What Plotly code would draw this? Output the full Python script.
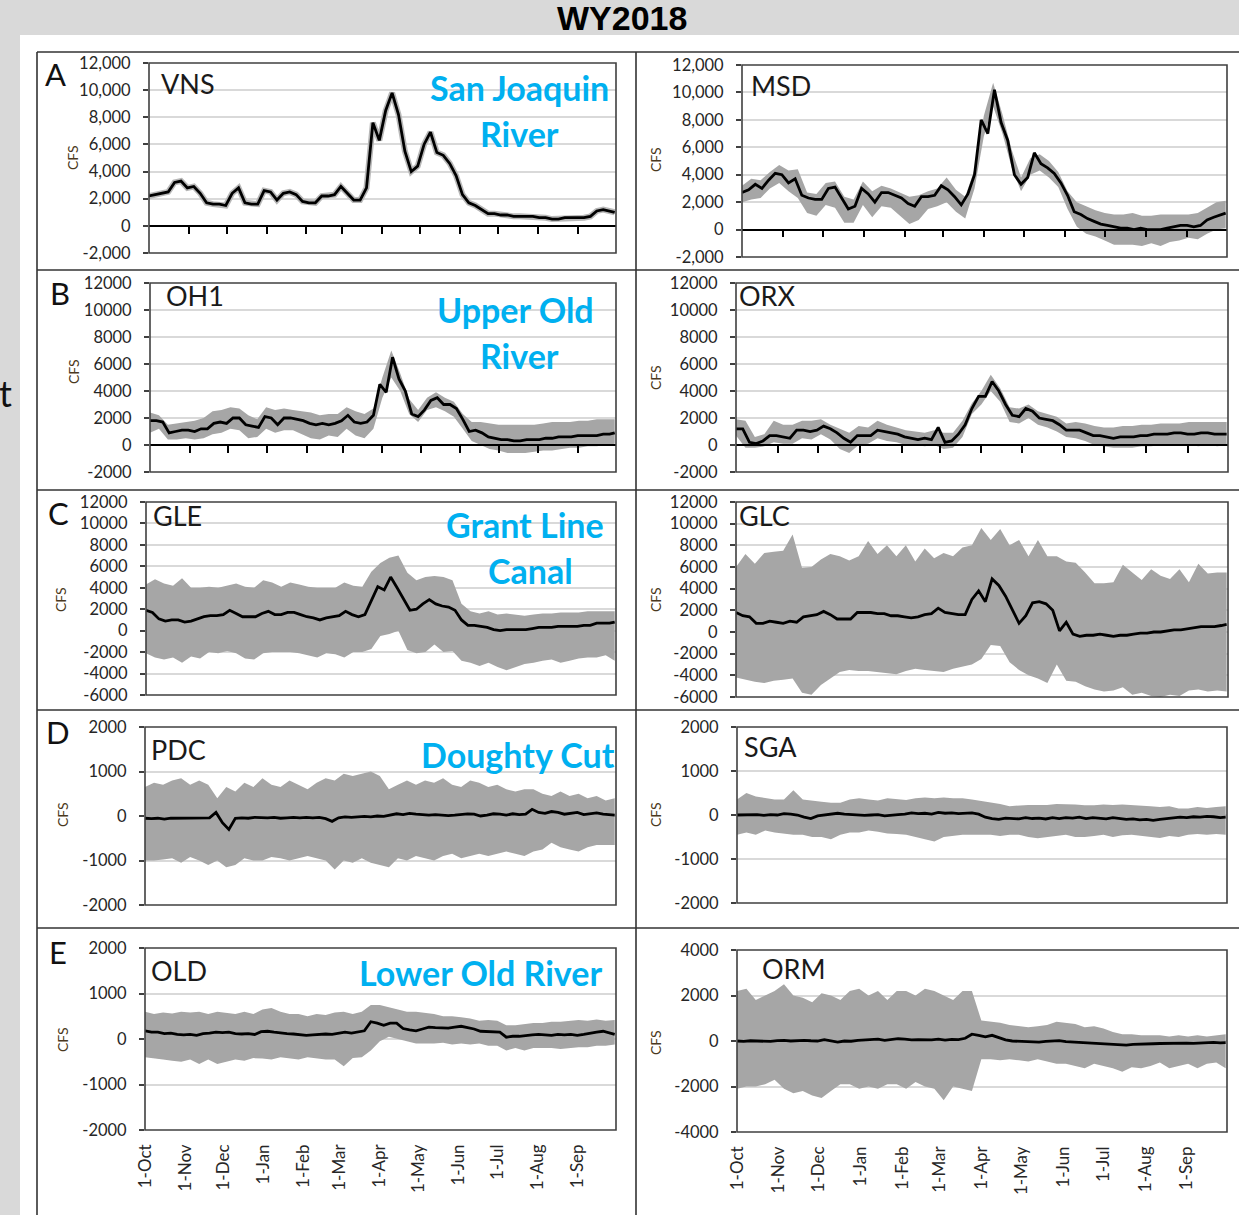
import plotly.graph_objects as go
import pandas as pd

W, H = 1239, 1215

# ---------------- categories (dates) ----------------
dates5 = list(pd.date_range('2017-10-01', periods=73, freq='5D')) + [pd.Timestamp('2018-09-30')]
dates7 = list(pd.date_range('2017-10-01', periods=53, freq='7D'))
month_starts = list(pd.date_range('2017-10-01', periods=12, freq='MS'))
month_labels = ['1-Oct', '1-Nov', '1-Dec', '1-Jan', '1-Feb', '1-Mar',
                '1-Apr', '1-May', '1-Jun', '1-Jul', '1-Aug', '1-Sep']

# ---------------- daily-mean flow (5-day samples) ----------------
vns_mean = [2200, 2300, 2400, 2500, 3200, 3300, 2800, 2900, 2400, 1700,
            1600, 1600, 1500, 2400, 2800, 1700, 1600, 1600, 2600, 2500,
            1900, 2400, 2500, 2300, 1800, 1700, 1700, 2200, 2200, 2300,
            2900, 2400, 1900, 1900, 2800, 7600, 6300, 8500, 9800, 8200,
            5500, 4000, 4400, 6000, 6900, 5400, 5200, 4600, 3700, 2300,
            1700, 1500, 1200, 900, 900, 800, 800, 700, 700, 700,
            700, 600, 600, 500, 500, 600, 600, 600, 600, 700,
            1100, 1200, 1100, 1000]
msd_mean = [2700, 2900, 3300, 3000, 3600, 4100, 4000, 3400, 3700, 2500,
            2300, 2200, 2200, 3000, 3100, 2300, 1500, 1700, 3000, 2600,
            2000, 2700, 2700, 2500, 2300, 1900, 1700, 2400, 2400, 2500,
            3200, 2900, 2400, 1800, 2600, 4000, 8000, 7000, 10200, 7800,
            6500, 4000, 3300, 3800, 5600, 4800, 4500, 4100, 3400, 2500,
            1300, 1100, 800, 600, 400, 300, 200, 100, 100, 0,
            100, 0, 0, 0, 100, 200, 300, 300, 200, 300,
            700, 900, 1100, 1200]
oh1_mean = [1800, 1800, 1700, 900, 1000, 1100, 1100, 1000, 1200, 1200,
            1600, 1700, 1600, 2000, 2000, 1500, 1400, 1300, 2100, 2000,
            1500, 2000, 2000, 1900, 1800, 1600, 1500, 1600, 1500, 1600,
            1800, 2200, 1700, 1600, 1700, 2200, 4500, 3900, 6500, 4900,
            4000, 2300, 2100, 2600, 3300, 3500, 3000, 3000, 2700, 1900,
            1000, 1100, 900, 600, 500, 400, 400, 300, 300, 400,
            400, 400, 500, 500, 600, 600, 600, 700, 700, 700,
            700, 800, 800, 900]
orx_mean = [1200, 1200, 200, 100, 300, 700, 700, 600, 500, 1100,
            1100, 1000, 1100, 1400, 1200, 900, 500, 200, 700, 700,
            700, 1100, 1000, 900, 800, 600, 500, 400, 500, 400,
            1300, 200, 300, 800, 1500, 2700, 3600, 3600, 4700, 4000,
            3000, 2200, 2100, 2700, 2500, 2000, 1900, 1800, 1500, 1100,
            1100, 1100, 900, 700, 700, 600, 500, 600, 600, 600,
            700, 700, 800, 800, 800, 900, 900, 800, 800, 900,
            900, 800, 800, 800]
gle_mean = [1900, 1700, 1100, 900, 1000, 1000, 800, 900, 1100, 1300,
            1400, 1400, 1500, 1900, 1600, 1300, 1300, 1300, 1600, 1800,
            1500, 1500, 1700, 1700, 1500, 1300, 1200, 1000, 1200, 1300,
            1400, 1800, 1500, 1300, 1500, 2800, 4100, 3800, 5000, 4000,
            3000, 1900, 2000, 2500, 2900, 2500, 2300, 2200, 1900, 1000,
            500, 500, 400, 300, 100, 0, 100, 100, 100, 100,
            200, 300, 300, 300, 400, 400, 400, 400, 500, 500,
            700, 700, 700, 800]
glc_mean = [1800, 1500, 1400, 800, 800, 1000, 900, 800, 1000, 900,
            1400, 1500, 1600, 1900, 1600, 1200, 1200, 1200, 1800, 1800,
            1800, 1700, 1700, 1500, 1500, 1400, 1300, 1400, 1600, 1700,
            2200, 1800, 1700, 1600, 1600, 3000, 3800, 2800, 4900, 4300,
            3300, 2000, 800, 1500, 2700, 2800, 2600, 2000, 100, 900,
            -200, -400, -300, -300, -200, -300, -400, -300, -300, -200,
            -100, -100, 0, 0, 100, 200, 200, 300, 400, 500,
            500, 500, 600, 700]
pdc_mean = [-50, -60, -50, -70, -50, -50, -50, -40, -50, -50,
            -40, 80, -150, -300, -50, -40, -50, -30, -40, -40,
            -30, -50, -40, -30, -40, -30, -40, -30, -60, -120,
            -40, -20, -30, -20, -10, -20, 0, -10, 20, 50,
            30, 60, 40, 30, 20, 30, 20, 10, 20, 30,
            50, 40, 0, 20, 50, 40, 20, 50, 30, 40,
            150, 80, 60, 100, 80, 40, 60, 80, 30, 50,
            70, 40, 30, 20]
sga_mean = [0, 0, 0, 10, -10, 10, 0, 30, 20, 0,
            -50, -80, -20, 0, 20, 40, 20, 10, 0, -10,
            0, 10, -20, 0, 10, 20, 50, 30, 40, 20,
            60, 40, 50, 30, 40, 50, 20, -50, -80, -100,
            -70, -80, -90, -60, -80, -70, -90, -60, -80, -60,
            -70, -50, -80, -60, -70, -90, -60, -80, -100, -90,
            -110, -100, -120, -100, -80, -60, -50, -60, -40, -50,
            -30, -40, -60, -50]
old_mean = [180, 150, 150, 120, 130, 100, 90, 100, 80, 120,
            130, 150, 140, 150, 120, 110, 120, 100, 160, 170,
            150, 130, 120, 110, 100, 80, 90, 100, 110, 100,
            130, 150, 130, 160, 180, 380, 350, 300, 350, 350,
            230, 200, 180, 220, 260, 250, 250, 240, 260, 280,
            250, 220, 170, 160, 150, 150, 40, 60, 60, 80,
            90, 100, 90, 80, 100, 90, 100, 80, 100, 130,
            150, 170, 140, 100]
orm_mean = [0, -20, 10, -10, 0, -20, 20, 30, 0, 20,
            30, 10, 0, 60, 20, -50, 0, -10, 30, 40,
            50, 80, 30, 60, 100, 80, 50, 60, 40, 50,
            80, 40, 70, 60, 120, 300, 250, 180, 250, 150,
            50, 0, -20, -30, -30, -50, -20, 0, 20, -30,
            -50, -60, -80, -90, -100, -150, -170, -160, -180, -150,
            -130, -140, -120, -110, -100, -110, -100, -90, -100, -80,
            -90, -60, -80, -70]

# ---------------- tidal range envelopes (weekly samples) ----------------
msd_up = [3200, 3700, 3600, 4200, 4700, 4300, 4400, 2700, 2600, 3400,
          3500, 2400, 2200, 3500, 2800, 3200, 3000, 2700, 2400, 2500,
          2800, 3000, 3800, 2900, 2400, 4400, 8300, 10700, 8400, 5800,
          3800, 5200, 5500, 5000, 4200, 2800, 2000, 1700, 1400, 1200,
          1100, 1100, 1200, 1000, 1000, 1100, 1100, 1100, 1100, 1200,
          1600, 2000, 2100]
msd_lo = [2000, 2200, 2300, 3000, 3400, 2800, 2300, 1200, 1000, 1800,
          1600, 500, 500, 1800, 900, 1700, 1600, 1000, 400, 700,
          1500, 1700, 2000, 1300, 800, 3000, 6800, 9000, 7000, 4500,
          2800, 4000, 4300, 3800, 3100, 1500, 200, -300, -500, -800,
          -1100, -1100, -1100, -1200, -1000, -1200, -900, -800, -600, -700,
          -300, 0, 100]
oh1_up = [2400, 2200, 1500, 1600, 1700, 1800, 2000, 2500, 2600, 2800,
          2700, 2200, 1900, 2800, 2600, 2700, 2600, 2500, 2400, 2200,
          2300, 2300, 2800, 2500, 2300, 2700, 5000, 7000, 5300, 3400,
          2600, 3500, 3900, 3500, 3200, 2300, 1700, 1700, 1600, 1500,
          1500, 1500, 1500, 1500, 1600, 1700, 1700, 1700, 1800, 1800,
          1900, 1900, 1900]
oh1_lo = [900, 1200, 400, 400, 500, 400, 500, 800, 900, 1200,
          1100, 500, 600, 1200, 900, 1100, 1100, 800, 500, 400,
          700, 600, 1200, 700, 500, 1200, 3500, 5000, 4000, 2300,
          1700, 2600, 2800, 2500, 2100, 1200, 300, 0, -300, -400,
          -600, -600, -600, -500, -400, -400, -300, -200, -200, -100,
          -100, 0, 100]
orx_up = [1900, 1800, 600, 800, 1800, 1500, 1500, 1800, 1800, 1900,
          1500, 1200, 900, 1400, 1300, 1800, 1500, 1300, 1100, 1000,
          900, 1100, 900, 900, 1800, 3100, 4000, 5200, 4200, 2800,
          2700, 3000, 2500, 2300, 2100, 1600, 1700, 1600, 1400, 1300,
          1300, 1400, 1400, 1500, 1500, 1600, 1600, 1600, 1700, 1700,
          1700, 1700, 1700]
orx_lo = [700, -200, -200, -100, 200, 100, 100, 500, 400, 800,
          400, -300, -600, 0, 100, 500, 300, 200, 0, 0,
          -100, 0, -300, -200, 600, 2300, 3000, 4000, 3200, 1700,
          1600, 2000, 1500, 1300, 1000, 600, 500, 300, 0, -100,
          -200, -200, -200, -100, -100, 0, 0, 0, 0, -100,
          0, -100, 0]
gle_up = [4300, 4800, 4400, 4200, 4900, 4000, 4000, 4100, 4000, 4200,
          4400, 4100, 4000, 4700, 4500, 4100, 4500, 4300, 4100, 4000,
          4000, 4000, 4500, 4200, 4100, 5500, 6300, 6800, 7000, 5400,
          4700, 5000, 5100, 5000, 4700, 2500, 1800, 1600, 1800, 1500,
          1600, 1500, 1400, 1500, 1600, 1600, 1700, 1700, 1700, 1800,
          1800, 1800, 1800]
gle_lo = [-2100, -2500, -2700, -2500, -3000, -2400, -2600, -2000, -2100, -1900,
          -2100, -2600, -2700, -2100, -2000, -2000, -2000, -2100, -2300, -2500,
          -2100, -2200, -2500, -2000, -2000, -1700, -500, -300, 0, -1800,
          -2100, -2000, -1300, -2000, -1900, -2800, -3000, -3300, -3000, -3400,
          -3700, -3400, -3100, -3000, -2800, -2700, -3000, -2800, -2600, -2500,
          -2500, -2300, -2800]
glc_up = [6000, 7200, 6300, 7300, 7400, 7500, 9000, 5900, 6000, 6700,
          7200, 7000, 6600, 7000, 8400, 7200, 8000, 7000, 8000, 6500,
          7700, 6800, 7300, 7000, 7800, 8000, 9600, 8500, 9500, 8000,
          8500, 7000, 8500, 7000, 7000, 6500, 6400, 5500, 4500, 4500,
          4600, 6200, 5500, 4800, 5800, 5200, 4900, 5800, 4600, 6300,
          5400, 5500, 5500]
glc_lo = [-4200, -4400, -4600, -4700, -4500, -4400, -4300, -5600, -5800, -4900,
          -4300, -3700, -3500, -3600, -3600, -3700, -3800, -3900, -3600, -3400,
          -3500, -3600, -3700, -3400, -3200, -3000, -2500, -1200, -1300, -2800,
          -3500, -4000, -4300, -4700, -3000, -4500, -4600, -5000, -5300, -5500,
          -5400, -5100, -5800, -5600, -5900, -6000, -5800, -5900, -5400, -5300,
          -5500, -5400, -5500]
pdc_up = [650, 750, 700, 800, 850, 700, 800, 700, 400, 650,
          550, 750, 650, 850, 700, 650, 800, 700, 600, 750,
          850, 800, 950, 900, 950, 1000, 900, 600, 700, 800,
          700, 800, 750, 850, 700, 650, 800, 750, 650, 700,
          600, 550, 600, 600, 500, 450, 550, 450, 500, 400,
          450, 350, 400]
pdc_lo = [-1000, -1000, -980, -950, -1050, -920, -1000, -1100, -1000, -1150,
          -1100, -950, -1000, -1000, -920, -950, -1000, -950, -900, -950,
          -1000, -1200, -1000, -1050, -950, -1050, -1100, -1150, -950, -1000,
          -900, -950, -1000, -900, -850, -950, -900, -850, -900, -850,
          -800, -850, -900, -800, -750, -600, -700, -750, -800, -700,
          -650, -650, -650]
sga_up = [350, 500, 420, 380, 350, 350, 560, 350, 320, 300,
          280, 280, 350, 380, 350, 330, 380, 360, 340, 380,
          400, 380, 400, 380, 380, 350, 320, 280, 250, 200,
          220, 230, 230, 230, 250, 250, 240, 220, 220, 240,
          230, 240, 230, 220, 200, 180, 200, 150, 150, 180,
          160, 180, 200]
sga_lo = [-450, -400, -450, -350, -400, -420, -450, -450, -500, -500,
          -550, -450, -400, -400, -350, -380, -420, -430, -450, -500,
          -550, -600, -500, -480, -450, -450, -450, -450, -480, -450,
          -450, -500, -530, -500, -480, -450, -500, -500, -480, -450,
          -500, -460, -450, -470, -500, -520, -480, -500, -450, -430,
          -450, -430, -450]
old_up = [600, 550, 580, 560, 600, 580, 600, 550, 600, 580,
          550, 600, 550, 650, 680, 600, 550, 550, 500, 550,
          530, 580, 600, 550, 600, 750, 750, 700, 650, 600,
          600, 580, 550, 500, 500, 480, 450, 400, 420, 400,
          300, 300, 330, 350, 350, 380, 380, 400, 420, 400,
          430, 400, 420]
old_lo = [-400, -420, -450, -480, -500, -450, -550, -450, -550, -500,
          -450, -480, -420, -430, -450, -400, -420, -450, -400, -420,
          -450, -450, -600, -420, -400, -250, -50, 50, 0, -50,
          -100, -100, -100, -80, -120, -100, -120, -100, -150, -150,
          -250, -200, -250, -200, -200, -200, -220, -200, -180, -180,
          -150, -150, -120]
orm_up = [2200, 2300, 1800, 2000, 2200, 2500, 2000, 1900, 1700, 2100,
          2000, 1800, 2200, 2300, 2000, 2200, 1800, 2200, 2200, 2000,
          2300, 2200, 2000, 1800, 2200, 2200, 900, 850, 800, 700,
          650, 600, 650, 700, 850, 800, 750, 600, 650, 550,
          400, 300, 300, 250, 250, 250, 200, 250, 200, 250,
          200, 250, 300]
orm_lo = [-2100, -2000, -2000, -1900, -1700, -2100, -2300, -2200, -2400, -2500,
          -2200, -1900, -1900, -2100, -2000, -2100, -1900, -1900, -2100, -1800,
          -2000, -2100, -2600, -2000, -2100, -2200, -800, -800, -850, -800,
          -850, -900, -800, -900, -1000, -1000, -1100, -1200, -1000, -1100,
          -1200, -1350, -1150, -1200, -1100, -950, -1200, -1100, -1000, -1200,
          -1000, -950, -1200]

# ---------------- y tick labels ----------------
ticks_a = [-2000, 0, 2000, 4000, 6000, 8000, 10000, 12000]
ticks_a_txt = ['-2,000', '0', '2,000', '4,000', '6,000', '8,000', '10,000', '12,000']
ticks_b = [-2000, 0, 2000, 4000, 6000, 8000, 10000, 12000]
ticks_b_txt = ['-2000', '0', '2000', '4000', '6000', '8000', '10000', '12000']
ticks_c = [-6000, -4000, -2000, 0, 2000, 4000, 6000, 8000, 10000, 12000]
ticks_c_txt = ['-6000', '-4000', '-2000', '0', '2000', '4000', '6000', '8000', '10000', '12000']
ticks_d = [-2000, -1000, 0, 1000, 2000]
ticks_d_txt = ['-2000', '-1000', '0', '1000', '2000']
ticks_e2 = [-4000, -2000, 0, 2000, 4000]
ticks_e2_txt = ['-4000', '-2000', '0', '2000', '4000']

# ---------------- panel definitions (layout in pixels) ----------------
panels = [
    dict(st='VNS', mean=vns_mean, up=None, lo=None, yr=[-2000, 12000], tv=ticks_a, tt=ticks_a_txt,
         xpx=(149, 616), ypx=(63, 253), kind='zero', st_xy=(159, 83), cfs_xy=(73, 158)),
    dict(st='MSD', mean=msd_mean, up=msd_up, lo=msd_lo, yr=[-2000, 12000], tv=ticks_a, tt=ticks_a_txt,
         xpx=(742, 1227), ypx=(65, 257), kind='zero', st_xy=(749, 86), cfs_xy=(655, 160)),
    dict(st='OH1', mean=oh1_mean, up=oh1_up, lo=oh1_lo, yr=[-2000, 12000], tv=ticks_b, tt=ticks_b_txt,
         xpx=(150, 616), ypx=(283, 472), kind='zero', st_xy=(164, 296), cfs_xy=(73, 372)),
    dict(st='ORX', mean=orx_mean, up=orx_up, lo=orx_lo, yr=[-2000, 12000], tv=ticks_b, tt=ticks_b_txt,
         xpx=(736, 1228), ypx=(283, 472), kind='zero', st_xy=(737, 296), cfs_xy=(655, 378)),
    dict(st='GLE', mean=gle_mean, up=gle_up, lo=gle_lo, yr=[-6000, 12000], tv=ticks_c, tt=ticks_c_txt,
         xpx=(146, 616), ypx=(502, 695), kind='none', st_xy=(151, 515), cfs_xy=(60, 600)),
    dict(st='GLC', mean=glc_mean, up=glc_up, lo=glc_lo, yr=[-6000, 12000], tv=ticks_c, tt=ticks_c_txt,
         xpx=(736, 1228), ypx=(502, 697), kind='none', st_xy=(737, 515), cfs_xy=(655, 600)),
    dict(st='PDC', mean=pdc_mean, up=pdc_up, lo=pdc_lo, yr=[-2000, 2000], tv=ticks_d, tt=ticks_d_txt,
         xpx=(145, 616), ypx=(727, 905), kind='none', st_xy=(149, 749), cfs_xy=(62, 815)),
    dict(st='SGA', mean=sga_mean, up=sga_up, lo=sga_lo, yr=[-2000, 2000], tv=ticks_d, tt=ticks_d_txt,
         xpx=(737, 1227), ypx=(727, 903), kind='none', st_xy=(742, 746), cfs_xy=(655, 815)),
    dict(st='OLD', mean=old_mean, up=old_up, lo=old_lo, yr=[-2000, 2000], tv=ticks_d, tt=ticks_d_txt,
         xpx=(145, 616), ypx=(948, 1130), kind='labels', st_xy=(149, 970), cfs_xy=(62, 1040)),
    dict(st='ORM', mean=orm_mean, up=orm_up, lo=orm_lo, yr=[-4000, 4000], tv=ticks_e2, tt=ticks_e2_txt,
         xpx=(737, 1227), ypx=(950, 1132), kind='labels', st_xy=(760, 968), cfs_xy=(655, 1043)),
]

FONT = 'Lato'
TICKCOL = '#262626'
BAND = '#a6a6a6'

fig = go.Figure()
layout = {}
shapes = []
annotations = []


def px_x(x):
    return x / W


def px_y(y):
    return 1 - y / H


for i, p in enumerate(panels):
    n = i + 1
    xa = 'x' if n == 1 else f'x{n}'
    ya = 'y' if n == 1 else f'y{n}'
    if p['up'] is not None:
        fig.add_trace(go.Scatter(x=dates7, y=p['up'], mode='lines', line=dict(width=0, color=BAND),
                                 xaxis=xa, yaxis=ya, showlegend=False, hoverinfo='skip'))
        fig.add_trace(go.Scatter(x=dates7, y=p['lo'], mode='lines', line=dict(width=0, color=BAND),
                                 fill='tonexty', fillcolor=BAND,
                                 xaxis=xa, yaxis=ya, showlegend=False, hoverinfo='skip'))
    else:
        fig.add_trace(go.Scatter(x=dates5, y=p['mean'], mode='lines', line=dict(width=6, color='#b8b8b8'),
                                 xaxis=xa, yaxis=ya, showlegend=False, hoverinfo='skip'))
    fig.add_trace(go.Scatter(x=dates5, y=p['mean'], mode='lines', line=dict(width=2.8, color='black'),
                             xaxis=xa, yaxis=ya, showlegend=False, name=p['st']))

    x0, x1 = p['xpx']
    y0, y1 = p['ypx']
    xd = [px_x(x0), px_x(x1)]
    yd = [px_y(y1), px_y(y0)]
    ymin, ymax = p['yr']

    xax = dict(domain=xd, range=['2017-10-01', '2018-10-01'], type='date', anchor=ya,
               showgrid=False, zeroline=False, showline=False, ticks='', showticklabels=False,
               automargin=False, fixedrange=True)
    if p['kind'] == 'zero':
        pos = yd[0] + (0 - ymin) / (ymax - ymin) * (yd[1] - yd[0])
        xax.update(anchor='free', position=pos, showline=True, linecolor='black', linewidth=1.6,
                   ticks='outside', ticklen=7, tickwidth=1.6, tickcolor='black',
                   tickvals=month_starts[1:])
    elif p['kind'] == 'labels':
        xax.update(showticklabels=True, tickvals=month_starts, ticktext=month_labels,
                   tickangle=-90, tickfont=dict(family=FONT, size=17, color=TICKCOL),
                   ticklabelstandoff=10)
    yax = dict(domain=yd, range=p['yr'], anchor=xa, tickvals=p['tv'], ticktext=p['tt'],
               showgrid=True, gridcolor='#d9d9d9', gridwidth=1.5, zeroline=False, showline=False,
               ticks='outside', ticklen=5, tickwidth=1.5, tickcolor='#404040',
               tickfont=dict(family=FONT, size=16.5, color=TICKCOL),
               ticklabelstandoff=9, automargin=False, fixedrange=True)
    layout['xaxis' if n == 1 else f'xaxis{n}'] = xax
    layout['yaxis' if n == 1 else f'yaxis{n}'] = yax

    shapes.append(dict(type='rect', xref=f'{xa} domain', yref=f'{ya} domain', x0=0, x1=1, y0=0, y1=1,
                       line=dict(color='#404040', width=1.6), layer='above'))
    sx, sy = p['st_xy']
    annotations.append(dict(x=px_x(sx), y=px_y(sy), xref='paper', yref='paper', text=p['st'],
                            showarrow=False, xanchor='left', yanchor='middle',
                            font=dict(family=FONT, size=27, color='#1a1a1a')))
    cx, cy = p['cfs_xy']
    annotations.append(dict(x=px_x(cx), y=px_y(cy), xref='paper', yref='paper', text='CFS',
                            showarrow=False, textangle=-90, xanchor='center', yanchor='middle',
                            font=dict(family=FONT, size=14, color='#4a3820')))

# white sheet and frame lines
shapes.insert(0, dict(type='rect', xref='paper', yref='paper', x0=px_x(20), x1=1.0, y0=0, y1=px_y(35),
                      fillcolor='white', line=dict(width=0), layer='below'))
frame = dict(color='#333333', width=1.6)
shapes.append(dict(type='line', xref='paper', yref='paper', x0=px_x(37), x1=1.0, y0=px_y(52), y1=px_y(52), line=frame))
shapes.append(dict(type='line', xref='paper', yref='paper', x0=px_x(37), x1=px_x(37), y0=0, y1=px_y(52), line=frame))
shapes.append(dict(type='line', xref='paper', yref='paper', x0=px_x(636), x1=px_x(636), y0=0, y1=px_y(52), line=frame))
for yy in [270, 490, 710, 928]:
    shapes.append(dict(type='line', xref='paper', yref='paper', x0=px_x(37), x1=1.0, y0=px_y(yy), y1=px_y(yy), line=frame))

# panel letters
for letter, (lx, ly) in zip(['A', 'B', 'C', 'D', 'E'], [(55, 74), (60, 293), (58, 513), (58, 732), (58, 952)]):
    annotations.append(dict(x=px_x(lx), y=px_y(ly), xref='paper', yref='paper', text=letter, showarrow=False,
                            xanchor='center', yanchor='middle', font=dict(family=FONT, size=31, color='#111111')))

# river names
BLUE = '#00b0f0'
for txt, (bx, by) in [('San Joaquin', (519, 88)), ('River', (519, 133)),
                      ('Upper Old', (515, 310)), ('River', (519, 355)),
                      ('Grant Line', (525, 525)), ('Canal', (530, 570)),
                      ('Doughty Cut', (518, 755)), ('Lower Old River', (480, 972))]:
    annotations.append(dict(x=px_x(bx), y=px_y(by), xref='paper', yref='paper', text=f'<b>{txt}</b>',
                            showarrow=False, xanchor='center', yanchor='middle',
                            font=dict(family=FONT, size=34, color=BLUE)))

# title and stray glyph at left edge
annotations.append(dict(x=px_x(622), y=px_y(18), xref='paper', yref='paper', text='<b>WY2018</b>',
                        showarrow=False, xanchor='center', yanchor='middle',
                        font=dict(family='Liberation Sans', size=34, color='black')))
annotations.append(dict(x=px_x(-3), y=px_y(393), xref='paper', yref='paper', text='t',
                        showarrow=False, xanchor='left', yanchor='middle',
                        font=dict(family=FONT, size=36, color='#111111')))

fig.update_layout(width=W, height=H, margin=dict(l=0, r=0, t=0, b=0, pad=0),
                  paper_bgcolor='#d9d9d9', plot_bgcolor='white', showlegend=False,
                  shapes=shapes, annotations=annotations, **layout)

fig.write_html('out.html')
